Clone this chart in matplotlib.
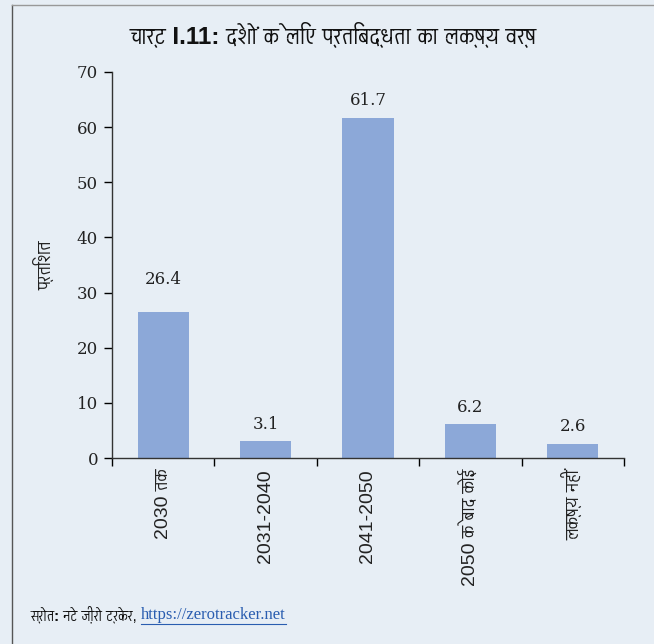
import matplotlib
matplotlib.use("Agg")
import matplotlib.pyplot as plt
from matplotlib import font_manager
from matplotlib.ft2font import FT2Font
from matplotlib.lines import Line2D

# Chart data
categories = ["2030 तक", "2031-2040", "2041-2050", "2050 के बाद कोई", "लक्ष्य नहीं"]
values = [26.4, 3.1, 61.7, 6.2, 2.6]
y_ticks = [0, 10, 20, 30, 40, 50, 60, 70]

title = "चार्ट I.11: देशों के लिए प्रतिबद्धता का लक्ष्य वर्ष"
y_label = "प्रतिशत"
source_bold = "स्रोत:"
source_text = " नेट ज़ीरो ट्रेकर, "
source_link = "https://zerotracker.net"

bg = "#e7eef5"
bar_color = "#8ca8d8"


# find installed fonts that cover Devanagari, non-mono ones first
def find_deva_families():
    found = []
    for f in font_manager.fontManager.ttflist:
        try:
            cmap = FT2Font(f.fname).get_charmap()
        except Exception:
            continue
        if 0x0915 in cmap and 0x093E in cmap and f.name not in found:
            found.append(f.name)
    found.sort(key=lambda n: ("Mono" in n, n))
    return found


deva = find_deva_families()
sans = ["Liberation Sans"] + deva + ["DejaVu Sans"]
serif = ["DejaVu Serif"] + deva

fig = plt.figure(figsize=(6.54, 6.44), dpi=100, facecolor=bg)
ax = fig.add_axes([0.1713, 0.2888, 0.7827, 0.5994])
ax.set_facecolor(bg)

x = list(range(len(categories)))
ax.bar(x, values, width=0.5, color=bar_color)
label_gap = [4.4, 1.5, 1.5, 1.5, 1.5]
for xi, v, g in zip(x, values, label_gap):
    ax.text(xi, v + g, f"{v:.1f}", ha="center", va="bottom",
            family=serif, fontsize=12, color="#222222")

ax.set_xlim(-0.5, len(categories) - 0.5)
ax.set_ylim(0, 70)
ax.set_yticks(y_ticks)
ax.set_yticklabels([str(t) for t in y_ticks], family=serif, fontsize=12, color="#222222")
ax.tick_params(axis="y", direction="out", length=6, width=1, pad=4)

ax.set_xticks(x)
ax.set_xticklabels(categories, rotation=90, family=sans, fontsize=14,
                   color="#222222", va="top")
ax.set_xticks([i - 0.5 for i in range(len(categories) + 1)], minor=True)
ax.tick_params(axis="x", which="major", length=0, pad=8)
ax.tick_params(axis="x", which="minor", direction="out", length=6, width=1)

for s in ["top", "right"]:
    ax.spines[s].set_visible(False)
for s in ["left", "bottom"]:
    ax.spines[s].set_color("#333333")
    ax.spines[s].set_linewidth(1)

ax.set_ylabel(y_label, family=sans, fontsize=14, color="#222222")
ax.yaxis.set_label_coords(-0.11, 0.5)

fig.text(0.51, 0.945, title, ha="center", va="center", family=sans,
         fontsize=17.5, fontweight="bold", color="#111111")

# source line
t1 = fig.text(0.046, 0.045, source_bold, ha="left", va="center", family=sans,
              fontsize=11, fontweight="bold", color="#111111")
fig.canvas.draw()
r = fig.canvas.get_renderer()
bb = t1.get_window_extent(r)
t2 = fig.text(bb.x1 / fig.bbox.width, 0.045, source_text, ha="left", va="center",
              family=sans, fontsize=11, color="#111111")
bb2 = t2.get_window_extent(r)
t3 = fig.text(bb2.x1 / fig.bbox.width, 0.045, source_link, ha="left", va="center",
              family=["Liberation Serif"], fontsize=12, color="#2a5db0")
bb3 = t3.get_window_extent(r)
fig.add_artist(Line2D([bb3.x0 / fig.bbox.width, bb3.x1 / fig.bbox.width],
                      [bb3.y0 / fig.bbox.height - 0.002] * 2,
                      color="#2a5db0", linewidth=0.8))

# frame lines at left and top
fig.add_artist(Line2D([0.019, 0.019], [0.0, 0.993], color="#555555", linewidth=1))
fig.add_artist(Line2D([0.019, 1.0], [0.993, 0.993], color="#999999", linewidth=1))

fig.savefig("out.png", dpi=100, facecolor=bg)
